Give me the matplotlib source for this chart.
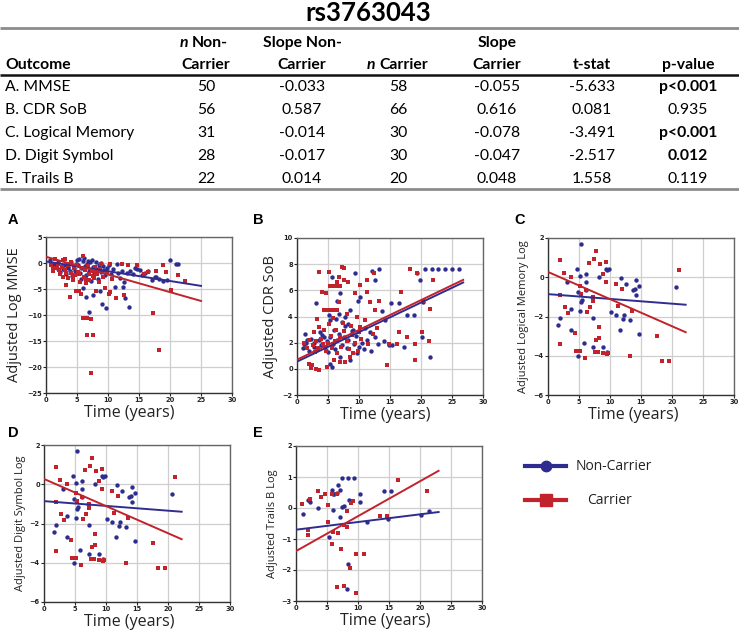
import matplotlib
matplotlib.use("Agg")
import matplotlib.pyplot as plt

# ---------------- table data ----------------
title = "rs3763043"
outcomes = ["A. MMSE", "B. CDR SoB", "C. Logical Memory", "D. Digit Symbol", "E. Trails B"]
n_noncarrier = ["50", "56", "31", "28", "22"]
slope_noncarrier = ["-0.033", "0.587", "-0.014", "-0.017", "0.014"]
n_carrier = ["58", "66", "30", "30", "20"]
slope_carrier = ["-0.055", "0.616", "-0.078", "-0.047", "0.048"]
t_stat = ["-5.633", "0.081", "-3.491", "-2.517", "1.558"]
p_value = ["p<0.001", "0.935", "p<0.001", "0.012", "0.119"]
p_bold = [True, False, True, True, False]

# ---------------- panel A: MMSE ----------------
A_blue = [(0.6,0.5),(1.0,-0.3),(1.4,-0.2),(1.8,-0.9),(2.2,-1.8),(2.5,-0.5),(2.8,-1.2),(3.0,-0.3),(3.3,-2.1),
          (3.5,-0.8),(3.8,-1.5),(4.0,0.2),(4.2,-2.5),(4.5,-0.9),(4.7,-1.6),(5.0,0.6),(5.2,-0.4),(5.4,0.8),
          (5.5,-1.9),(5.7,-3.0),(5.9,0.3),(6.0,-4.9),(6.1,-1.2),(6.2,0.9),(6.4,-6.6),(6.5,-2.3),(6.6,-0.2),
          (6.8,0.4),(6.9,-9.5),(7.0,-1.5),(7.2,-3.4),(7.4,0.5),(7.5,-6.2),(7.6,-0.8),(7.8,-2.0),(8.0,0.1),
          (8.2,-1.1),(8.4,-3.0),(8.6,-0.4),(8.7,-5.3),(8.9,-1.8),(9.1,-7.8),(9.2,-0.6),(9.5,-2.4),(9.7,-8.7),
          (9.9,-1.0),(10.2,-0.3),(10.5,-2.1),(10.8,-1.2),(11.1,-4.6),(11.4,-0.2),(11.6,-1.9),(11.9,-2.8),
          (12.2,-1.5),(12.4,-4.7),(12.5,-3.7),(12.7,-6.8),(13.0,-2.0),(13.4,-8.5),(13.6,-1.6),(14.0,-2.2),
          (14.3,-1.0),(14.6,-1.1),(15.1,-1.3),(15.5,-2.3),(16.0,-2.0),(16.5,-1.6),(17.1,-3.2),(17.5,-2.6),
          (17.8,-2.7),(18.3,-3.0),(18.9,-3.4),(19.5,-3.2),(20.0,0.6),(21.3,-0.1),(21.0,-0.2),
          (2.0,0.1),(3.6,-1.0),(4.8,-0.2),(5.6,-1.0),(6.3,-0.6),(7.1,0.2),(7.9,-1.3),(8.8,0.0),(9.4,-1.4)]
A_red = [(0.8,-0.4),(1.2,-1.6),(1.5,0.7),(1.8,-1.0),(2.0,-0.2),(2.3,-2.2),(2.5,-0.8),(2.7,0.5),(3.0,0.8),
         (3.0,-1.4),(3.3,-4.3),(3.5,-2.8),(3.6,-0.4),(3.8,-6.5),(4.0,-1.9),(4.1,0.2),(4.3,-3.2),(4.5,-1.0),
         (4.7,-2.4),(4.9,-5.3),(5.0,-0.3),(5.2,-1.7),(5.4,-5.3),(5.5,-3.6),(5.7,-6.0),(5.8,-0.9),(6.0,1.4),
         (6.0,-10.5),(6.1,-2.7),(6.3,-1.3),(6.5,-3.9),(6.6,-10.5),(6.6,-13.8),(6.7,-0.5),(6.9,-2.1),(7.0,-3.3),
         (7.2,-10.8),(7.3,-21.2),(7.4,-1.6),(7.6,-13.8),(7.7,-2.9),(7.9,-0.7),(8.1,-5.3),(8.2,-2.2),(8.5,-3.6),
         (8.7,-1.2),(8.9,-0.2),(9.2,-2.6),(9.5,-4.9),(9.8,-1.7),(10.2,-6.0),(10.3,-5.6),(10.3,-0.2),(10.6,-3.1),
         (11.3,-6.8),(12.2,-0.1),(12.5,-6.1),(13.2,-0.3),(14.6,-0.3),(15.8,-2.1),(16.4,-1.8),(17.3,-9.7),
         (17.8,-1.6),(18.2,-16.8),(18.9,-0.3),(19.3,-1.8),(20.2,-5.1),(21.3,-2.4),(22.4,-3.5),
         (1.1,-1.0),(2.1,-1.3),(3.2,-2.0),(4.4,-2.7),(5.3,-2.2),(6.4,-3.0),(7.5,-2.5),(8.0,-1.8),(2.8,-2.6)]
A_fit_blue = [(0, 0.3), (25, -4.4)]
A_fit_red = [(0, 1.2), (25, -7.3)]

# ---------------- panel B: CDR SoB ----------------
B_blue = [(20.7,7.65),(21.8,7.65),(22.8,7.65),(23.9,7.65),(25.0,7.65),(26.1,7.65),
          (19.4,7.3),(19.9,6.8),(20.3,5.1),(20.2,2.4),(21.4,0.9),(18.8,4.1),(17.7,4.1),(17.2,1.7),(16.4,5.0),
          (15.1,5.0),(13.3,7.65),(12.6,6.8),(12.1,7.5),(13.7,4.4),(14.2,3.7),(14.9,1.8),(15.3,1.8),(12.6,2.4),
          (11.8,2.8),(11.3,2.2),(10.2,5.5),(9.9,5.2),(9.4,7.3),(8.6,4.5),(7.8,4.0),(7.0,5.8),(6.5,5.2),(5.6,7.0),
          (5.1,4.1),(5.4,3.7),(3.0,5.0),(1.3,2.7),(1.1,1.9),(1.6,2.2),(2.7,1.7),(4.3,2.4),(5.4,0.4),(5.6,0.15),
          (7.0,0.9),(8.6,0.7),(9.7,1.2),
          (1.0,1.6),(1.5,2.0),(2.0,1.4),(2.3,2.3),(2.8,2.0),(3.2,1.5),(3.5,2.2),(3.8,1.8),(4.0,2.6),(4.5,1.7),
          (4.8,2.1),(5.0,1.3),(5.3,2.4),(5.8,1.9),(6.0,3.0),(6.2,1.5),(6.5,2.2),(6.8,2.7),(7.2,1.8),(7.5,2.4),
          (7.7,3.3),(8.0,1.6),(8.3,2.2),(8.8,2.9),(9.2,1.9),(9.5,2.5),(10.0,1.7),(10.5,2.0),(11.0,3.1),(6.3,3.8),
          (6.8,4.2),(7.3,3.6),(8.2,3.4),(9.0,3.0),(10.8,1.5),(12.0,1.4),(13.0,1.9),(14.0,2.1),(3.7,2.8)]
B_red = [(3.5,7.4),(5.1,7.4),(7.3,7.8),(7.6,7.7),(6.7,7.0),(6.5,6.6),(5.4,6.3),(5.9,6.3),(6.2,6.3),(6.6,6.3),
         (7.0,6.3),(4.0,5.9),(4.6,5.8),(7.5,6.8),(8.3,6.6),(9.4,5.8),(11.3,6.8),(10.2,6.4),(12.4,7.3),(11.3,5.9),
         (11.8,5.1),(12.6,4.5),(13.2,5.2),(16.7,5.9),(18.3,7.6),(19.4,7.3),(22.0,6.8),(20.4,5.2),(21.5,4.6),
         (20.2,2.8),(21.3,2.1),(19.1,1.9),(17.7,2.4),(16.1,1.9),(16.4,2.8),(14.8,1.9),(14.5,0.3),(19.1,0.7),
         (12.9,3.1),(11.0,3.7),(10.2,3.2),(2.2,0.03),(2.4,0.3),(1.9,0.4),(3.0,0.0),(3.5,-0.1),(4.8,0.15),
         (5.9,0.7),(7.0,0.5),(7.8,0.5),(8.6,0.9),(9.1,1.2),(3.2,3.8),(3.5,3.2),(2.7,2.8),(4.3,4.5),(4.8,4.5),
         (5.4,4.5),(5.9,4.5),(6.5,4.5),(6.7,5.1),
         (1.2,2.0),(1.6,1.6),(2.0,2.2),(2.5,1.8),(2.9,1.3),(3.0,2.1),(3.4,1.6),(3.9,2.3),(4.2,1.9),(4.6,1.4),
         (5.0,2.0),(5.5,2.5),(5.7,1.6),(6.1,2.1),(6.4,1.2),(6.9,2.4),(7.1,1.7),(7.6,2.9),(8.0,2.1),(8.4,1.5),
         (8.9,2.6),(9.3,2.0),(9.8,1.4),(10.4,2.3),(4.4,3.0),(5.2,3.4),(5.8,3.9),(6.3,3.0),(7.4,3.5),(8.1,4.2),
         (8.7,3.3),(9.6,4.0),(10.0,2.8),(11.5,1.9),(12.3,2.7)]
B_fit_blue = [(0, 0.55), (26.8, 6.6)]
B_fit_red = [(0, 0.7), (26.8, 6.8)]

# ---------------- panel C: Logical Memory ----------------
C_blue = [(1.6,-2.44),(1.9,-2.07),(3.0,-0.24),(3.7,-2.7),(3.7,-1.64),(4.7,0.44),(4.8,-0.75),(5.1,0.05),
          (5.2,-1.7),(5.3,1.71),(5.4,-1.25),(5.5,-1.17),(5.8,-3.37),(6.1,0.15),(6.1,-0.24),(6.1,-0.63),
          (4.8,-4.0),(7.2,-2.1),(7.3,-3.54),(8.2,0.02),(8.9,-3.54),(9.4,0.44),(9.5,0.36),(9.9,0.44),(9.5,-3.8),
          (10.1,-1.76),(11.0,-1.93),(11.6,-2.7),(11.8,-0.02),(12.1,-2.15),(12.2,-1.93),(12.6,-0.36),(13.2,-2.19),
          (13.7,-0.63),(14.1,-0.58),(14.2,-0.15),(14.2,-0.92),(14.7,-0.46),(14.7,-2.9),(20.7,-0.49),(7.1,-1.0)]
C_red = [(2.0,0.9),(1.9,-0.88),(2.0,-3.42),(2.5,0.22),(2.8,-1.54),(3.2,-1.8),(3.7,0.02),(4.3,-2.83),
         (4.5,-3.76),(5.1,-3.75),(5.2,-0.46),(5.4,-0.86),(5.9,-4.1),(6.2,-0.63),(6.3,-1.76),(6.7,-1.54),
         (6.6,0.73),(7.2,-1.0),(7.3,-1.2),(7.4,0.95),(7.8,1.34),(7.5,-3.83),(7.7,-3.2),(8.1,-3.8),(8.2,-2.56),
         (8.3,-3.12),(8.4,0.69),(8.8,-3.85),(8.9,0.15),(9.3,0.78),(9.3,-0.25),(9.5,-3.9),(9.7,-3.85),
         (10.9,-0.32),(11.3,-1.47),(12.0,-0.58),(13.2,-4.0),(13.5,-1.71),(17.5,-3.0),(18.4,-4.27),(19.5,-4.27),
         (21.1,0.36)]
C_fit_blue = [(0, -0.86), (22.2, -1.4)]
C_fit_red = [(0, 0.27), (22.2, -2.8)]

# ---------------- panel D: Digit Symbol (same points as shown in C) ----------------
D_blue = list(C_blue)
D_red = list(C_red)
D_fit_blue = [(0, -0.86), (22.2, -1.4)]
D_fit_red = [(0, 0.27), (22.2, -2.8)]

# ---------------- panel E: Trails B ----------------
E_blue = [(1.2,-0.18),(2.0,0.25),(2.3,0.19),(3.6,0.0),(5.8,0.57),(6.0,0.46),(5.3,-0.93),(6.0,-0.07),
          (6.2,0.46),(6.6,0.48),(6.7,0.73),(7.1,0.59),(7.1,-0.29),(7.4,0.97),(7.4,0.03),(7.7,0.05),(8.4,0.97),
          (8.5,0.25),(8.4,-1.82),(8.2,-2.62),(9.3,0.97),(10.3,0.44),(10.4,0.19),(11.4,-0.45),(14.2,0.54),
          (14.8,-0.34),(15.3,0.54),(20.2,-0.24),(21.4,-0.11)]
E_red = [(0.9,0.12),(1.9,-0.7),(2.0,-0.86),(2.3,0.3),(3.5,0.55),(4.0,0.37),(4.6,0.44),(5.1,0.09),(5.2,-0.45),
         (5.8,0.44),(6.0,-0.79),(5.8,-1.17),(6.6,0.44),(6.6,-2.54),(6.8,-0.8),(7.2,-1.32),(7.7,-2.5),(7.8,-0.56),
         (8.2,-0.61),(8.3,-0.1),(8.8,0.17),(9.2,0.21),(8.7,-1.95),(9.6,-2.75),(9.6,-1.49),(10.9,-1.49),
         (13.6,-0.27),(14.6,-0.27),(16.4,0.89),(21.2,0.54)]
E_fit_blue = [(0, -0.7), (23, -0.13)]
E_fit_red = [(0, -1.39), (23, 1.2)]

# ---------------- styling ----------------
BLUE = "#2e2d8f"
RED = "#c1222b"
W, H = 739, 634
fig = plt.figure(figsize=(W / 100, H / 100), dpi=100)

ov = fig.add_axes([0, 0, 1, 1], zorder=-1)
ov.set_xlim(0, W)
ov.set_ylim(H, 0)
ov.axis("off")

TF = "Lato"
tsize = 11.3
ov.text(368, 13, title, ha="center", va="center", fontsize=18.5, fontweight="bold", family=TF)
ov.plot([0, W], [28, 28], color="#8c8c8c", lw=2.0, solid_capstyle="butt")
ov.plot([0, W], [74.5, 74.5], color="#111111", lw=1.8, solid_capstyle="butt")
ov.plot([0, W], [189, 189], color="#8c8c8c", lw=2.0, solid_capstyle="butt")

col_x = [5, 206, 302, 398, 497, 592, 688]
h1, h2 = 43, 65
hb = dict(va="center", fontsize=tsize, fontweight="bold", family=TF)
ov.text(col_x[0], h2, "Outcome", ha="left", **hb)
ov.text(180, h1, "n", ha="left", style="italic", **hb)
ov.text(192, h1, "Non-", ha="left", **hb)
ov.text(col_x[1], h2, "Carrier", ha="center", **hb)
ov.text(col_x[2], h1, "Slope Non-", ha="center", **hb)
ov.text(col_x[2], h2, "Carrier", ha="center", **hb)
ov.text(367, h2, "n", ha="left", style="italic", **hb)
ov.text(379, h2, "Carrier", ha="left", **hb)
ov.text(col_x[4], h1, "Slope", ha="center", **hb)
ov.text(col_x[4], h2, "Carrier", ha="center", **hb)
ov.text(col_x[5], h2, "t-stat", ha="center", **hb)
ov.text(col_x[6], h2, "p-value", ha="center", **hb)

row_y = [87, 110, 133, 156, 179]
for i in range(len(outcomes)):
    y = row_y[i]
    ov.text(col_x[0], y, outcomes[i], ha="left", va="center", fontsize=tsize, family=TF)
    for cx, val in zip(col_x[1:6], [n_noncarrier[i], slope_noncarrier[i], n_carrier[i], slope_carrier[i], t_stat[i]]):
        ov.text(cx, y, val, ha="center", va="center", fontsize=tsize, family=TF)
    ov.text(col_x[6], y, p_value[i], ha="center", va="center", fontsize=tsize, family=TF,
            fontweight="bold" if p_bold[i] else "normal")


def px_axes(l, t, r, b):
    return fig.add_axes([l / W, 1 - b / H, (r - l) / W, (b - t) / H])


LF = "Open Sans"


def panel(ax, blue, red, fit_b, fit_r, ylim, yticks, ylabel, ylsize, ylx, xlx):
    ax.set_xlim(0, 30)
    ax.set_ylim(*ylim)
    ax.set_xticks(range(0, 31, 5))
    ax.set_yticks(yticks)
    ax.grid(True, color="#cfcfcf", lw=0.9)
    ax.set_axisbelow(True)
    for s in ax.spines.values():
        s.set_color("#666666")
        s.set_linewidth(1.0)
    ax.spines["left"].set_color("#333333")
    ax.spines["bottom"].set_color("#333333")
    ax.tick_params(length=2, width=0.8, pad=1, labelsize=4.8, colors="#222222")
    for lab in ax.get_xticklabels() + ax.get_yticklabels():
        lab.set_fontweight("bold")
    ax.scatter([p[0] for p in blue], [p[1] for p in blue], s=10, marker="o", color=BLUE, lw=0, zorder=3)
    ax.scatter([p[0] for p in red], [p[1] for p in red], s=10, marker="s", color=RED, lw=0, zorder=3)
    ax.plot([p[0] for p in fit_b], [p[1] for p in fit_b], color=BLUE, lw=1.4, zorder=4)
    ax.plot([p[0] for p in fit_r], [p[1] for p in fit_r], color=RED, lw=1.4, zorder=4)
    ax.set_ylabel(ylabel, fontsize=ylsize, family=LF, va="center", color="#222222")
    ax.yaxis.set_label_coords(ylx, 0.5)
    ax.set_xlabel("Time (years)", fontsize=11.5, family=LF, va="center", color="#222222")
    ax.xaxis.set_label_coords(xlx, -0.128)


axA = px_axes(46, 237, 232, 393)
panel(axA, A_blue, A_red, A_fit_blue, A_fit_red, (-25, 5), range(-25, 6, 5), "Adjusted Log MMSE", 10.5, -0.172, 0.45)
axB = px_axes(297, 238, 483, 395)
panel(axB, B_blue, B_red, B_fit_blue, B_fit_red, (-2, 10), range(-2, 11, 2), "Adjusted CDR SoB", 10.5, -0.145, 0.473)
axC = px_axes(548, 238, 734, 395)
panel(axC, C_blue, C_red, C_fit_blue, C_fit_red, (-6, 2), range(-6, 3, 2), "Adjusted Logical Memory Log", 8, -0.134, 0.46)
axD = px_axes(44, 445, 230, 602)
panel(axD, D_blue, D_red, D_fit_blue, D_fit_red, (-6, 2), range(-6, 3, 2), "Adjusted Digit Symbol Log", 8, -0.129, 0.457)
axE = px_axes(296, 446, 482, 601)
panel(axE, E_blue, E_red, E_fit_blue, E_fit_red, (-3, 2), range(-3, 3, 1), "Adjusted Trails B Log", 8, -0.129, 0.478)

for letter, (x, y) in zip("ABCDE", [(13, 220), (258, 220), (520, 220), (13, 433), (258, 433)]):
    ov.text(x, y, letter, ha="center", va="center", fontsize=10.5, fontweight="bold", family="Liberation Sans")

# legend
ov.plot([525, 566], [466, 466], color=BLUE, lw=3)
ov.plot([545.5], [466], marker="o", ms=7.5, color=BLUE)
ov.text(576, 466, "Non-Carrier", ha="left", va="center", fontsize=10, family=LF, color="#222222")
ov.plot([525, 566], [500, 500], color=RED, lw=3)
ov.plot([545.5], [500], marker="s", ms=8, color=RED)
ov.text(587, 500, "Carrier", ha="left", va="center", fontsize=10, family=LF, color="#222222")

fig.savefig("out.png", dpi=100)
